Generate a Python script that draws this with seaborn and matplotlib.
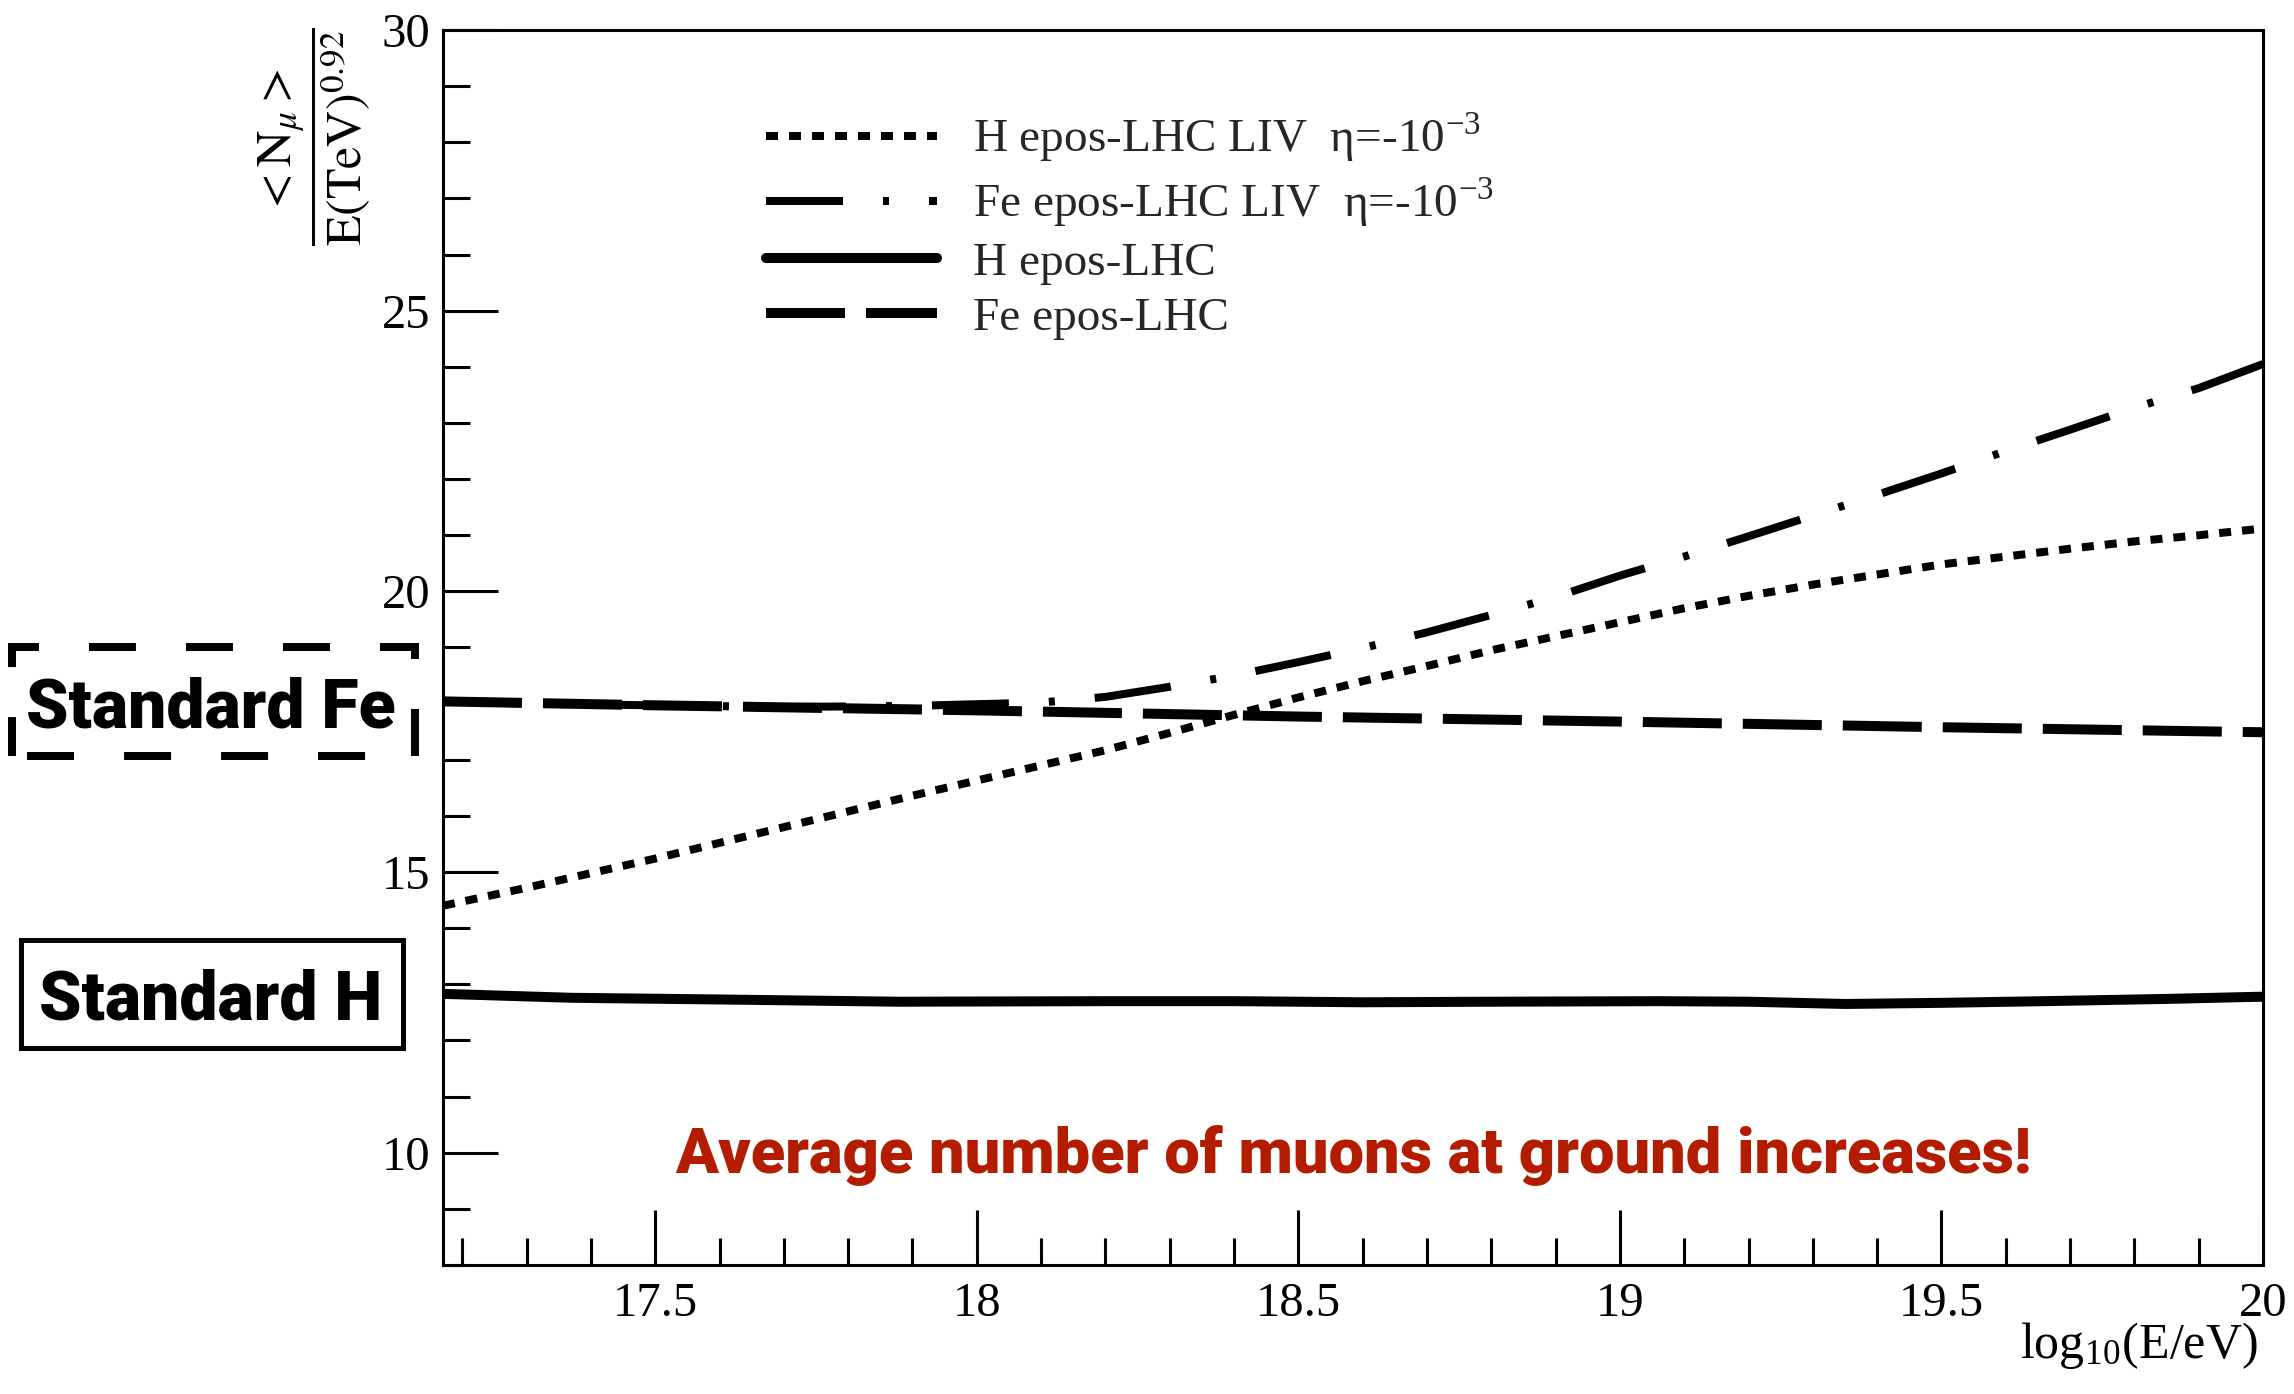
import matplotlib
matplotlib.use("Agg")
import matplotlib.pyplot as plt
import seaborn as sns
from matplotlib.patches import Rectangle
from matplotlib.ticker import MultipleLocator, FormatStrFormatter

# ---- data: <N_mu>/E^0.92 vs log10(E/eV) ----
h_liv_x = [17.17, 17.3, 17.5, 17.7, 17.9, 18.0, 18.1, 18.2, 18.3, 18.4, 18.5, 18.6, 18.7,
           18.8, 18.9, 19.0, 19.1, 19.2, 19.3, 19.4, 19.5, 19.6, 19.7, 19.8, 19.9, 20.0]
h_liv_y = [14.40, 14.72, 15.24, 15.80, 16.36, 16.63, 16.90, 17.17, 17.48, 17.80, 18.11, 18.40, 18.67,
           18.95, 19.20, 19.45, 19.70, 19.92, 20.12, 20.30, 20.48, 20.62, 20.76, 20.89, 21.00, 21.12]

fe_liv_x = [17.17, 17.3, 17.5, 17.7, 17.9, 18.0, 18.1, 18.2, 18.3, 18.4, 18.5, 18.6, 18.7,
            18.8, 18.9, 19.0, 19.1, 19.2, 19.3, 19.4, 19.5, 19.6, 19.7, 19.8, 19.9, 20.0]
fe_liv_y = [18.05, 18.00, 17.97, 17.94, 17.96, 17.99, 18.02, 18.12, 18.30, 18.50, 18.74, 18.99, 19.27,
            19.58, 19.90, 20.28, 20.62, 20.98, 21.35, 21.72, 22.10, 22.50, 22.88, 23.27, 23.62, 24.05]

h_x = [17.17, 17.37, 17.6, 17.88, 18.2, 18.4, 18.6, 18.8, 19.06, 19.2, 19.35, 19.5, 19.66, 19.85, 20.0]
h_y = [12.83, 12.76, 12.73, 12.69, 12.70, 12.70, 12.68, 12.69, 12.70, 12.69, 12.65, 12.67, 12.70, 12.74, 12.78]

fe_x = [17.17, 17.5, 18.0, 18.5, 19.0, 19.5, 20.0]
fe_y = [18.04, 17.97, 17.88, 17.77, 17.68, 17.58, 17.49]

labels = ["H epos-LHC LIV  η=-10$^{\\mathregular{-3}}$",
          "Fe epos-LHC LIV  η=-10$^{\\mathregular{-3}}$",
          "H epos-LHC",
          "Fe epos-LHC"]

x_ticks = [17.5, 18, 18.5, 19, 19.5, 20]
y_ticks = [10, 15, 20, 25, 30]

# ---- style ----
sns.set_theme(style="white")
plt.rcParams["font.family"] = ["Liberation Serif", "DejaVu Serif"]
plt.rcParams["mathtext.fontset"] = "stix"
plt.rcParams["lines.scale_dashes"] = False

W, H = 2294, 1394
fig = plt.figure(figsize=(W / 100, H / 100), dpi=100)
ax = fig.add_axes([443 / W, 1 - 1265 / H, 1820 / W, 1235 / H])

px = 0.72  # points per pixel at 100 dpi
series = [
    (h_liv_x, h_liv_y, labels[0], 8 * px, (0, (12 * px, 11 * px))),
    (fe_liv_x, fe_liv_y, labels[1], 8 * px, (0, (77 * px, 40 * px, 6 * px, 40 * px))),
    (h_x, h_y, labels[2], 10 * px, "-"),
    (fe_x, fe_y, labels[3], 10 * px, (0, (79 * px, 21 * px))),
]
for xs, ys, lab, lw, ls in series:
    sns.lineplot(x=xs, y=ys, ax=ax, color="black", lw=lw, linestyle=ls,
                 label=lab, sort=False, estimator=None)

if ax.get_legend() is not None:
    ax.get_legend().remove()

ax.set_xlim(17.17, 20)
ax.set_ylim(8, 30)
ax.set_xticks(x_ticks)
ax.set_yticks(y_ticks)
ax.xaxis.set_major_formatter(FormatStrFormatter("%g"))
ax.yaxis.set_major_formatter(FormatStrFormatter("%g"))
ax.xaxis.set_minor_locator(MultipleLocator(0.1))
ax.yaxis.set_minor_locator(MultipleLocator(1))
ax.tick_params(which="both", direction="in", bottom=True, left=True, top=False, right=False,
               color="black", width=2.2, labelcolor="black")
ax.tick_params(which="major", length=39.6, labelsize=35)
ax.tick_params(which="minor", length=19.4)
ax.tick_params(axis="x", which="major", pad=12)
ax.tick_params(axis="y", which="major", pad=9)
for s in ax.spines.values():
    s.set_color("black")
    s.set_linewidth(2.2)
ax.grid(False)

# axis titles
ax.set_xlabel(r"log$_{\mathregular{10}}$(E/eV)", fontsize=36, color="black", ha="right", va="baseline")
ax.xaxis.set_label_coords(0.9973, (1265 - 1358) / 1235)
ax.set_ylabel(r"$\dfrac{{<}\mathrm{N}_{\mu}{>}}{\mathrm{E(TeV)}^{0.92}}$", fontsize=36, color="black",
              ha="center", va="center")
ax.yaxis.set_label_coords((315 - 443) / 1820, (1265 - 136.5) / 1235)

# legend
handles = ax.get_lines()[:4]
ax.legend(handles, labels, loc="upper left",
          bbox_to_anchor=((766 - 443) / 1820, (1265 - 112) / 1235),
          frameon=False, fontsize=34, handlelength=3.62, handletextpad=0.76,
          labelspacing=0.25, borderpad=0, borderaxespad=0)

# red note inside the frame
ax.text(0.5, (1265 - 1173) / 1235, "Average number of muons at ground increases!",
        transform=ax.transAxes, ha="center", va="baseline", fontsize=45.5,
        family=["Roboto", "DejaVu Sans"], fontweight="black", color="#B41C00")

# boxed labels to the left of the frame
def fig_box(x0, y0, x1, y1, lw_px, ls):
    r = Rectangle((x0 / W, 1 - y1 / H), (x1 - x0) / W, (y1 - y0) / H,
                  transform=fig.transFigure, fill=False, edgecolor="black",
                  lw=lw_px * px, linestyle=ls, joinstyle="miter")
    fig.add_artist(r)

fig_box(12, 647, 415, 756, 8, (59, (47 * px, 50 * px)))
fig_box(20.5, 939.5, 402.5, 1047.5, 5, "-")

fig.text(211 / W, 1 - 728 / H, "Standard Fe", ha="center", va="baseline", fontsize=49,
         family=["Roboto", "DejaVu Sans"], fontweight="black", color="black")
fig.text(211 / W, 1 - 1020 / H, "Standard H", ha="center", va="baseline", fontsize=49,
         family=["Roboto", "DejaVu Sans"], fontweight="black", color="black")

fig.savefig("out.png", dpi=100, facecolor="white")
